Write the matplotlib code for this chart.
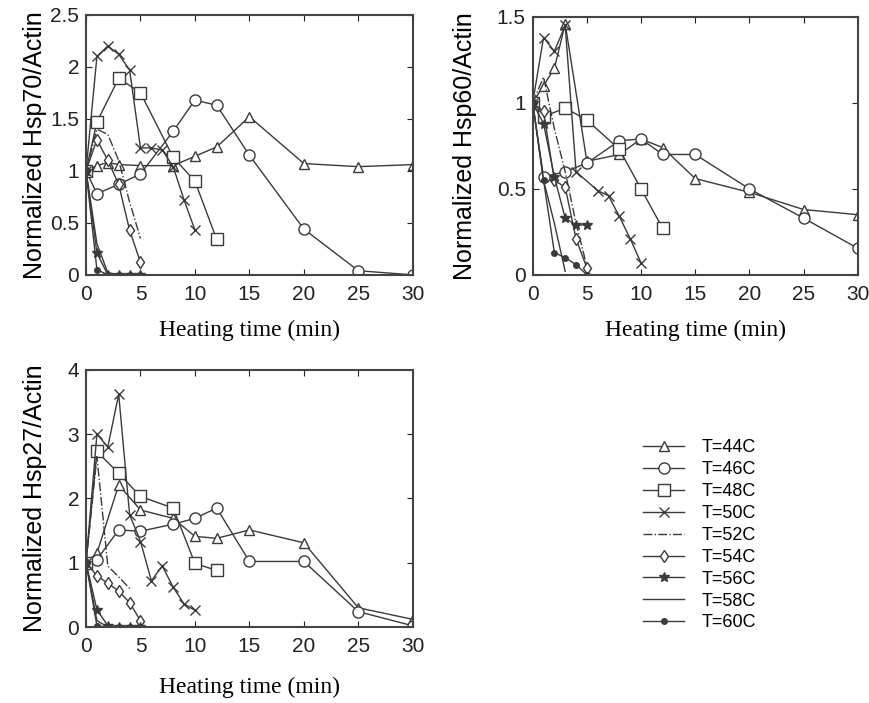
"""
Hsp70 / Hsp60 / Hsp27 expression vs heating time at several temperatures.
"""
import numpy as np
import matplotlib
matplotlib.use("Agg")
import matplotlib.pyplot as plt

temps = ["T=44C", "T=46C", "T=48C", "T=50C", "T=52C", "T=54C", "T=56C", "T=58C", "T=60C"]

# ---- Hsp70 ----
hsp70_x = {
    "T=44C": [0, 1, 2, 3, 5, 8, 10, 12, 15, 20, 25, 30],
    "T=46C": [0, 1, 3, 5, 8, 10, 12, 15, 20, 25, 30],
    "T=48C": [0, 1, 3, 5, 8, 10, 12],
    "T=50C": [0, 1, 2, 3, 4, 5, 6, 7, 8, 9, 10],
    "T=52C": [0, 1, 2, 3, 4, 5],
    "T=54C": [0, 1, 2, 3, 4, 5],
    "T=56C": [0, 1, 2, 3, 4, 5],
    "T=58C": [0, 1, 2, 3, 5],
    "T=60C": [0, 1, 2, 3, 4, 5],
}
hsp70_y = {
    "T=44C": [1, 1.05, 1.08, 1.06, 1.05, 1.05, 1.14, 1.23, 1.52, 1.07, 1.04, 1.06],
    "T=46C": [1, 0.78, 0.87, 0.97, 1.38, 1.68, 1.63, 1.15, 0.44, 0.04, 0.0],
    "T=48C": [1, 1.47, 1.89, 1.75, 1.13, 0.9, 0.34],
    "T=50C": [1, 2.1, 2.2, 2.12, 1.97, 1.22, 1.22, 1.2, 1.04, 0.72, 0.43],
    "T=52C": [1, 1.4, 1.35, 1.1, 0.7, 0.35],
    "T=54C": [1, 1.3, 1.1, 0.87, 0.43, 0.12],
    "T=56C": [1, 0.21, 0.0, 0.0, 0.0, 0.0],
    "T=58C": [1, 0.3, 0.02, 0.0, 0.0],
    "T=60C": [1, 0.05, 0.0, 0.0, 0.0, 0.0],
}

# ---- Hsp60 ----
hsp60_x = {
    "T=44C": [0, 1, 2, 3, 5, 8, 10, 12, 15, 20, 25, 30],
    "T=46C": [0, 1, 3, 5, 8, 10, 12, 15, 20, 25, 30],
    "T=48C": [0, 1, 3, 5, 8, 10, 12],
    "T=50C": [0, 1, 2, 3, 4, 6, 7, 8, 9, 10],
    "T=52C": [0, 1, 2, 3, 4, 5],
    "T=54C": [0, 1, 2, 3, 4, 5],
    "T=56C": [0, 1, 2, 3, 4, 5],
    "T=58C": [0, 1, 2, 3],
    "T=60C": [0, 1, 2, 3, 4, 5],
}
hsp60_y = {
    "T=44C": [1, 1.1, 1.2, 1.46, 0.66, 0.7, 0.79, 0.74, 0.56, 0.48, 0.38, 0.35],
    "T=46C": [1, 0.57, 0.6, 0.65, 0.78, 0.79, 0.7, 0.7, 0.5, 0.33, 0.155],
    "T=48C": [1, 0.92, 0.97, 0.9, 0.73, 0.5, 0.27],
    "T=50C": [1, 1.38, 1.3, 1.45, 0.6, 0.49, 0.46, 0.34, 0.21, 0.07],
    "T=52C": [1, 1.15, 0.85, 0.6, 0.3, 0.05],
    "T=54C": [1, 0.95, 0.55, 0.51, 0.21, 0.04],
    "T=56C": [1, 0.88, 0.57, 0.33, 0.29, 0.29],
    "T=58C": [1, 0.55, 0.3, 0.02],
    "T=60C": [1, 0.55, 0.13, 0.1, 0.06, 0.0],
}

# ---- Hsp27 ----
hsp27_x = {
    "T=44C": [0, 1, 3, 5, 8, 10, 12, 15, 20, 25, 30],
    "T=46C": [0, 1, 3, 5, 8, 10, 12, 15, 20, 25, 30],
    "T=48C": [0, 1, 3, 5, 8, 10, 12],
    "T=50C": [0, 1, 2, 3, 4, 5, 6, 7, 8, 9, 10],
    "T=52C": [0, 1, 2, 3, 4],
    "T=54C": [0, 1, 2, 3, 4, 5],
    "T=56C": [0, 1, 2, 3, 4, 5],
    "T=58C": [0, 1, 2, 5],
    "T=60C": [0, 1, 2, 3, 4, 5],
}
hsp27_y = {
    "T=44C": [1, 1.15, 2.21, 1.82, 1.69, 1.41, 1.38, 1.51, 1.31, 0.3, 0.12],
    "T=46C": [1, 1.05, 1.51, 1.49, 1.6, 1.69, 1.85, 1.02, 1.02, 0.24, 0.02],
    "T=48C": [1, 2.73, 2.39, 2.03, 1.85, 0.99, 0.88],
    "T=50C": [1, 3.0, 2.8, 3.62, 1.75, 1.33, 0.72, 0.95, 0.62, 0.36, 0.26],
    "T=52C": [1, 2.65, 0.95, 0.78, 0.6],
    "T=54C": [1, 0.8, 0.68, 0.56, 0.38, 0.1],
    "T=56C": [1, 0.27, 0.02, 0.0, 0.0, 0.0],
    "T=58C": [1, 0.1, 0.0, 0.0],
    "T=60C": [1, 0.02, 0.0, 0.0, 0.0, 0.0],
}

styles = {
    "T=44C": dict(marker="^", ls="-", ms=7),
    "T=46C": dict(marker="o", ls="-", ms=8),
    "T=48C": dict(marker="s", ls="-", ms=8),
    "T=50C": dict(marker="x", ls="-", ms=7),
    "T=52C": dict(marker="None", ls="-."),
    "T=54C": dict(marker="d", ls="-", ms=6),
    "T=56C": dict(marker="*", ls="-", ms=7),
    "T=58C": dict(marker="None", ls="-"),
    "T=60C": dict(marker=".", ls="-", ms=8),
}
filled = {"T=56C", "T=60C"}

line_col = "#3a3a3a"
serif = ["Liberation Serif", "DejaVu Serif"]
sans = ["Liberation Sans", "DejaVu Sans"]

fig = plt.figure(figsize=(8.69, 7.03), dpi=100)
ax1 = fig.add_axes([0.099, 0.609, 0.376, 0.370])
ax2 = fig.add_axes([0.613, 0.609, 0.374, 0.367])
ax3 = fig.add_axes([0.099, 0.108, 0.376, 0.366])

panels = [
    (ax1, hsp70_x, hsp70_y, "Normalized Hsp70/Actin", 2.5, np.arange(0, 2.51, 0.5),
     ["0", "0.5", "1", "1.5", "2", "2.5"], -0.118, 12),
    (ax2, hsp60_x, hsp60_y, "Normalized Hsp60/Actin", 1.5, np.arange(0, 1.51, 0.5),
     ["0", "0.5", "1", "1.5"], -0.17, 12),
    (ax3, hsp27_x, hsp27_y, "Normalized Hsp27/Actin", 4, np.arange(0, 4.1, 1),
     ["0", "1", "2", "3", "4"], -0.118, 15),
]

handles = []
for ax, xs, ys, ylab, ytop, yt, ytl, ylx, xpad in panels:
    hs = []
    for t in temps:
        st = styles[t]
        face = line_col if t in filled else "white"
        h, = ax.plot(xs[t], ys[t], color=line_col, lw=1.0, mec=line_col,
                     mfc=face, mew=1.0, label=t, **st)
        hs.append(h)
    handles = hs
    ax.set_xlim(0, 30)
    ax.set_ylim(0, ytop)
    ax.set_xticks([0, 5, 10, 15, 20, 25, 30])
    ax.set_yticks(yt)
    ax.set_yticklabels(ytl)
    ax.tick_params(direction="in", top=True, right=True, length=4,
                   labelsize=15, colors="#222222")
    ax.tick_params(axis="x", pad=7)
    ax.tick_params(axis="y", pad=5)
    for lab in ax.get_xticklabels() + ax.get_yticklabels():
        lab.set_family(sans)
    for sp in ax.spines.values():
        sp.set_linewidth(1.5)
        sp.set_color("#444444")
    ax.set_xlabel("Heating time (min)", family=serif, fontsize=17, labelpad=xpad)
    ax.set_ylabel(ylab, family=sans, fontsize=18)
    ax.yaxis.set_label_coords(ylx, 0.5)

fig.legend(handles, temps, loc="upper left", bbox_to_anchor=(0.721, 0.398),
           frameon=False, prop={"family": sans, "size": 13}, handlelength=2.3,
           labelspacing=0.27, handletextpad=0.95)

fig.savefig("out.png", dpi=100, facecolor="white")
